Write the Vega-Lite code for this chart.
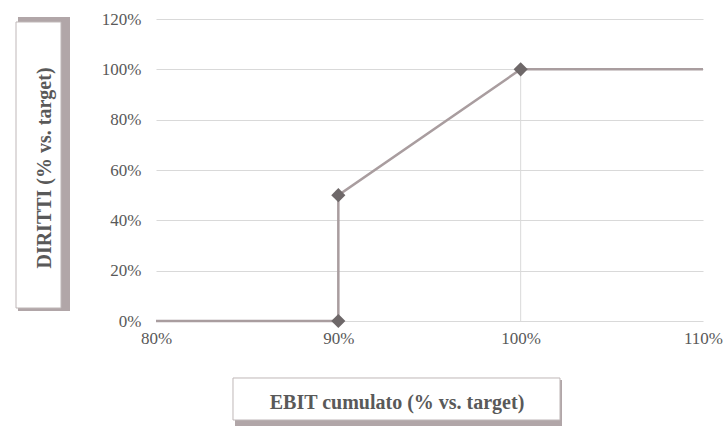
{
  "$schema": "https://vega.github.io/schema/vega-lite/v6.json",
  "width": 547,
  "height": 302,
  "autosize": {"type": "none"},
  "padding": {"left": 156, "top": 19, "right": 20, "bottom": 105},
  "background": "white",
  "config": {
    "view": {"stroke": null},
    "axis": {
      "labelFont": "Liberation Serif, Times New Roman, serif",
      "labelFontSize": 17,
      "labelColor": "#595959",
      "gridColor": "#D9D9D9",
      "gridWidth": 1,
      "domain": false,
      "ticks": false
    },
    "text": {"font": "Liberation Serif, Times New Roman, serif"}
  },
  "datasets": {
    "curve": [
      {"step": 1, "ebit": 0.8, "diritti": 0.0},
      {"step": 2, "ebit": 0.9, "diritti": 0.0},
      {"step": 3, "ebit": 0.9, "diritti": 0.5},
      {"step": 4, "ebit": 1.0, "diritti": 1.0},
      {"step": 5, "ebit": 1.1, "diritti": 1.0}
    ],
    "soglie": [
      {"ebit": 0.9, "diritti": 0.0},
      {"ebit": 0.9, "diritti": 0.5},
      {"ebit": 1.0, "diritti": 1.0}
    ],
    "target": [
      {"ebit": 1.0, "diritti": 1.0}
    ]
  },
  "layer": [
    {
      "data": {"values": [{}]},
      "mark": {"type": "rect", "fill": "#B1A6A8", "stroke": null},
      "encoding": {
        "x": {"datum": 0.72431, "type": "quantitative", "scale": {"domain": [0.8, 1.1], "nice": false, "zero": false}},
        "x2": {"datum": 0.75283},
        "y": {"datum": 1.2079, "type": "quantitative", "scale": {"domain": [0, 1.2], "nice": false, "zero": false}},
        "y2": {"datum": 0.0397}
      }
    },
    {
      "data": {"values": [{}]},
      "mark": {"type": "rect", "fill": "white", "stroke": "#BFB7B8", "strokeWidth": 1},
      "encoding": {
        "x": {"datum": 0.72322, "type": "quantitative"},
        "x2": {"datum": 0.7479},
        "y": {"datum": 1.1881, "type": "quantitative"},
        "y2": {"datum": 0.05166}
      }
    },
    {
      "data": {"values": [{}]},
      "mark": {"type": "rect", "fill": "#B1A6A8", "stroke": null},
      "encoding": {
        "x": {"datum": 0.84333, "type": "quantitative"},
        "x2": {"datum": 1.02267},
        "y": {"datum": -0.23444, "type": "quantitative"},
        "y2": {"datum": -0.41722}
      }
    },
    {
      "data": {"values": [{}]},
      "mark": {"type": "rect", "fill": "white", "stroke": "#BFB7B8", "strokeWidth": 1},
      "encoding": {
        "x": {"datum": 0.84223, "type": "quantitative"},
        "x2": {"datum": 1.02157},
        "y": {"datum": -0.22649, "type": "quantitative"},
        "y2": {"datum": -0.39338}
      }
    },
    {
      "data": {"values": [{"titolo": "EBIT cumulato (% vs. target)"}]},
      "mark": {"type": "text", "fontSize": 20, "fontWeight": "bold", "color": "#595959", "align": "center", "baseline": "middle"},
      "encoding": {
        "x": {"datum": 0.93218, "type": "quantitative"},
        "y": {"datum": -0.32583, "type": "quantitative"},
        "text": {"field": "titolo"}
      }
    },
    {
      "data": {"values": [{"titolo": "DIRITTI (% vs. target)"}]},
      "mark": {"type": "text", "fontSize": 20, "fontWeight": "bold", "color": "#595959", "align": "center", "baseline": "middle", "angle": 270},
      "encoding": {
        "x": {"datum": 0.73912, "type": "quantitative"},
        "y": {"datum": 0.60795, "type": "quantitative"},
        "text": {"field": "titolo"}
      }
    },
    {
      "data": {"name": "target"},
      "mark": {"type": "rule", "color": "#D9D9D9", "strokeWidth": 1},
      "encoding": {
        "x": {"field": "ebit", "type": "quantitative"},
        "y": {"field": "diritti", "type": "quantitative"},
        "y2": {"datum": 0}
      }
    },
    {
      "data": {"name": "curve"},
      "mark": {"type": "line", "color": "#A99D9F", "strokeWidth": 2.5},
      "encoding": {
        "x": {
          "field": "ebit", "type": "quantitative",
          "scale": {"domain": [0.8, 1.1], "nice": false, "zero": false},
          "axis": {
            "values": [0.8, 0.9, 1.0, 1.1],
            "format": ".0%",
            "grid": false,
            "labelFlush": false,
            "labelPadding": 9,
            "title": null
          }
        },
        "y": {
          "field": "diritti", "type": "quantitative",
          "scale": {"domain": [0, 1.2], "nice": false, "zero": false},
          "axis": {
            "values": [0, 0.2, 0.4, 0.6, 0.8, 1.0, 1.2],
            "format": ".0%",
            "grid": true,
            "labelPadding": 15,
            "title": null
          }
        },
        "order": {"field": "step", "type": "quantitative"}
      }
    },
    {
      "data": {"name": "soglie"},
      "mark": {"type": "point", "shape": "diamond", "filled": true, "size": 200, "color": "#6E6869", "opacity": 1},
      "encoding": {
        "x": {"field": "ebit", "type": "quantitative"},
        "y": {"field": "diritti", "type": "quantitative"}
      }
    }
  ]
}
